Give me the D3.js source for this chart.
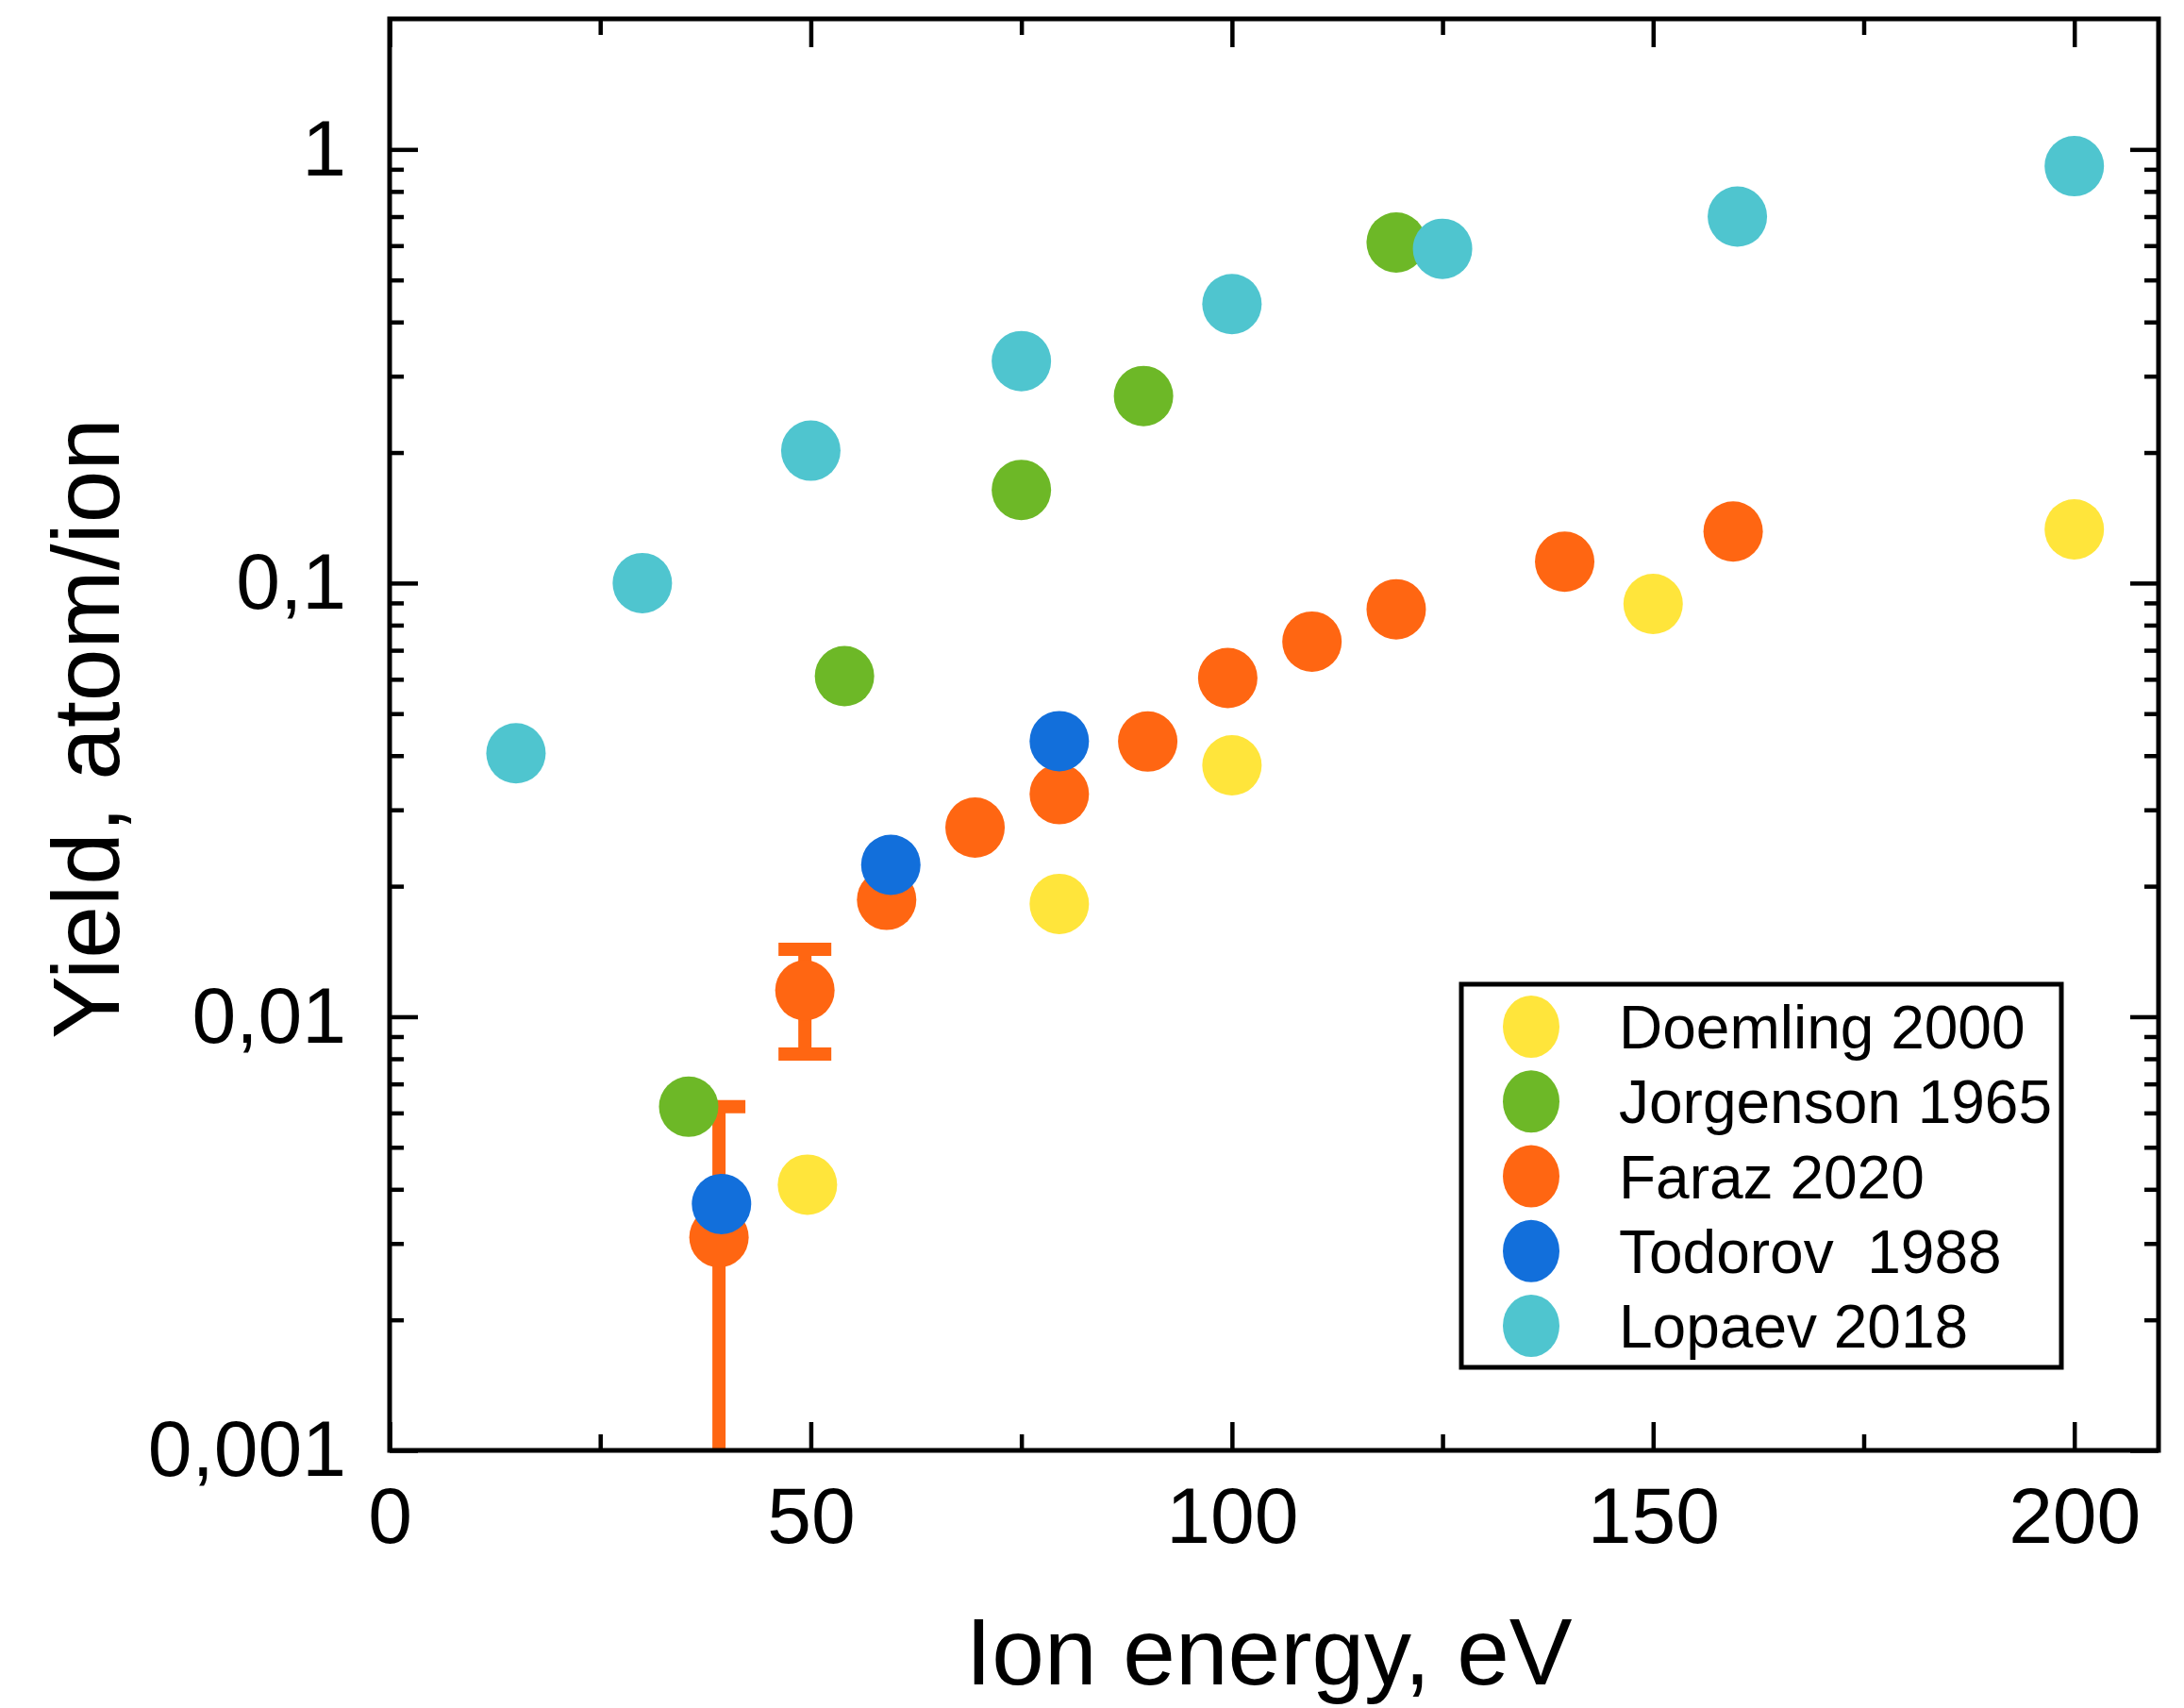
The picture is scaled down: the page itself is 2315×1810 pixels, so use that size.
<!DOCTYPE html>
<html>
<head>
<meta charset="utf-8">
<script src="https://cdn.jsdelivr.net/npm/d3@7"></script>
<style>
  body { margin: 0; background: #fff; }
  svg { display: block; }
  text { font-family: "Liberation Sans", Arial, Helvetica, sans-serif; fill: #000; }
</style>
</head>
<body>
<svg id="chart" width="2315" height="1810"></svg>
<script>
// Sputtering yield vs ion energy, several data sets

const doemlingEnergy = [49.6, 79.5, 100, 150, 200];
const doemlingYield  = [0.0041, 0.0182, 0.038, 0.0895, 0.133];

const jorgensonEnergy = [35.5, 54, 75, 89.5, 119.5];
const jorgensonYield  = [0.0062, 0.061, 0.164, 0.27, 0.61];

const farazEnergy = [39.1, 49.3, 59, 69.5, 79.5, 90, 99.5, 109.5, 119.5, 139.5, 159.5];
const farazYield  = [0.0031, 0.0115, 0.0186, 0.0273, 0.0326, 0.0431, 0.0604, 0.0733, 0.087, 0.112, 0.1315];
const farazErrLow  = [0.0008, 0.0082, null, null, null, null, null, null, null, null, null];
const farazErrHigh = [0.0062, 0.0143, null, null, null, null, null, null, null, null, null];

const todorovEnergy = [39.4, 59.5, 79.5];
const todorovYield  = [0.0037, 0.0224, 0.0432];

const lopaevEnergy = [15, 30, 50, 75, 100, 125, 160, 200];
const lopaevYield  = [0.0405, 0.1, 0.202, 0.325, 0.44, 0.59, 0.70, 0.915];

const legendLabels = ["Doemling 2000", "Jorgenson 1965", "Faraz 2020", "Todorov  1988", "Lopaev 2018"];
const legendColors = ["#FFE53B", "#6DB827", "#FF6612", "#126FDB", "#4FC5CF"];

const xTicks = [0, 50, 100, 150, 200];
const xMinorTicks = [25, 75, 125, 175];
const yTicks = [0.001, 0.01, 0.1, 1];
const yTickLabels = ["0,001", "0,01", "0,1", "1"];

const svg = d3.select("#chart");
const plotLeft = 413, plotRight = 2288, plotTop = 20, plotBottom = 1537;

const x = d3.scaleLinear().domain([0, 210]).range([plotLeft, plotRight]);
const y = d3.scaleLog().domain([0.001, 2]).range([plotBottom, plotTop]);

// minor log ticks 2..9 in each decade
const yMinorTicks = [];
[0.001, 0.01, 0.1].forEach(d => { for (let k = 2; k <= 9; k++) yMinorTicks.push(d * k); });

const tickStroke = 4.5;
function styleAxis(g) {
  g.select(".domain").remove();
  g.selectAll(".tick line").attr("stroke", "#000").attr("stroke-width", tickStroke);
  g.selectAll(".tick text").attr("font-size", 84).attr("fill", "#000")
    .attr("font-family", '"Liberation Sans", Arial, sans-serif');
}

// bottom axis with labels, ticks pointing inward
svg.append("g").attr("transform", `translate(0,${plotBottom})`)
  .call(d3.axisBottom(x).tickValues(xTicks).tickSizeInner(-30).tickSizeOuter(0).tickPadding(38).tickFormat(d3.format("d")))
  .call(styleAxis);
svg.append("g").attr("transform", `translate(0,${plotBottom})`)
  .call(d3.axisBottom(x).tickValues(xMinorTicks).tickSizeInner(-17).tickSizeOuter(0).tickFormat(""))
  .call(styleAxis);
// top axis
svg.append("g").attr("transform", `translate(0,${plotTop})`)
  .call(d3.axisTop(x).tickValues(xTicks).tickSizeInner(-30).tickSizeOuter(0).tickFormat(""))
  .call(styleAxis);
svg.append("g").attr("transform", `translate(0,${plotTop})`)
  .call(d3.axisTop(x).tickValues(xMinorTicks).tickSizeInner(-17).tickSizeOuter(0).tickFormat(""))
  .call(styleAxis);
// left axis with labels
svg.append("g").attr("transform", `translate(${plotLeft},0)`)
  .call(d3.axisLeft(y).tickValues(yTicks).tickSizeInner(-30).tickSizeOuter(0).tickPadding(46)
    .tickFormat((d, i) => yTickLabels[i]))
  .call(styleAxis);
svg.append("g").attr("transform", `translate(${plotLeft},0)`)
  .call(d3.axisLeft(y).tickValues(yMinorTicks).tickSizeInner(-15).tickSizeOuter(0).tickFormat(""))
  .call(styleAxis);
// right axis
svg.append("g").attr("transform", `translate(${plotRight},0)`)
  .call(d3.axisRight(y).tickValues(yTicks).tickSizeInner(-30).tickSizeOuter(0).tickFormat(""))
  .call(styleAxis);
svg.append("g").attr("transform", `translate(${plotRight},0)`)
  .call(d3.axisRight(y).tickValues(yMinorTicks).tickSizeInner(-15).tickSizeOuter(0).tickFormat(""))
  .call(styleAxis);

// clip for data marks
svg.append("clipPath").attr("id", "plotClip")
  .append("rect").attr("x", plotLeft).attr("y", plotTop)
  .attr("width", plotRight - plotLeft).attr("height", plotBottom - plotTop);

const plot = svg.append("g").attr("clip-path", "url(#plotClip)");

function zip(xs, ys) { return xs.map((e, i) => ({ e, v: ys[i], i })); }

const markRx = 31.5, markRy = 32;
function drawSeries(data, color) {
  plot.append("g").selectAll("ellipse").data(data).join("ellipse")
    .attr("cx", d => x(d.e)).attr("cy", d => y(d.v))
    .attr("rx", markRx).attr("ry", markRy)
    .attr("fill", color);
}

// Doemling 2000
drawSeries(zip(doemlingEnergy, doemlingYield), legendColors[0]);

// Faraz 2020 error bars, then markers
const farazData = zip(farazEnergy, farazYield);
const errData = farazData.filter(d => farazErrLow[d.i] !== null);
const errG = plot.append("g").attr("stroke", legendColors[2]).attr("stroke-width", 14);
errG.selectAll("line.bar").data(errData).join("line").attr("class", "bar")
  .attr("x1", d => x(d.e)).attr("x2", d => x(d.e))
  .attr("y1", d => y(Math.max(farazErrLow[d.i], 0.0005)))
  .attr("y2", d => y(farazErrHigh[d.i]));
const caps = [];
errData.forEach(d => {
  [farazErrLow[d.i], farazErrHigh[d.i]].forEach(v => { if (v >= 0.001) caps.push({ e: d.e, v }); });
});
errG.selectAll("line.cap").data(caps).join("line").attr("class", "cap")
  .attr("x1", d => x(d.e) - 28).attr("x2", d => x(d.e) + 28)
  .attr("y1", d => y(d.v)).attr("y2", d => y(d.v));
drawSeries(farazData, legendColors[2]);

// Jorgenson 1965
drawSeries(zip(jorgensonEnergy, jorgensonYield), legendColors[1]);
// Todorov 1988
drawSeries(zip(todorovEnergy, todorovYield), legendColors[3]);
// Lopaev 2018
drawSeries(zip(lopaevEnergy, lopaevYield), legendColors[4]);

// frame
svg.append("rect").attr("x", plotLeft).attr("y", plotTop)
  .attr("width", plotRight - plotLeft).attr("height", plotBottom - plotTop)
  .attr("fill", "none").attr("stroke", "#000").attr("stroke-width", 5);

// axis titles
svg.append("text").attr("x", 1345).attr("y", 1785)
  .attr("text-anchor", "middle").attr("font-size", 100).text("Ion energy, eV");
svg.append("text").attr("transform", "translate(126,772) rotate(-90)")
  .attr("text-anchor", "middle").attr("font-size", 100).text("Yield, atom/ion");

// legend
const legend = svg.append("g");
legend.append("rect").attr("x", 1549).attr("y", 1043).attr("width", 636).attr("height", 406)
  .attr("fill", "#fff").attr("stroke", "#000").attr("stroke-width", 5);
const rowY = d3.scaleLinear().domain([0, 4]).range([1088, 1405]);
const rows = legend.selectAll("g.row").data(legendLabels).join("g").attr("class", "row")
  .attr("transform", (d, i) => `translate(0,${rowY(i)})`);
rows.append("ellipse").attr("cx", 1623).attr("cy", 0).attr("rx", 30).attr("ry", 33)
  .attr("fill", (d, i) => legendColors[i]);
rows.append("text").attr("x", 1716).attr("y", 0).attr("dy", "0.36em")
  .attr("font-size", 64).style("white-space", "pre").text(d => d);
</script>
</body>
</html>
